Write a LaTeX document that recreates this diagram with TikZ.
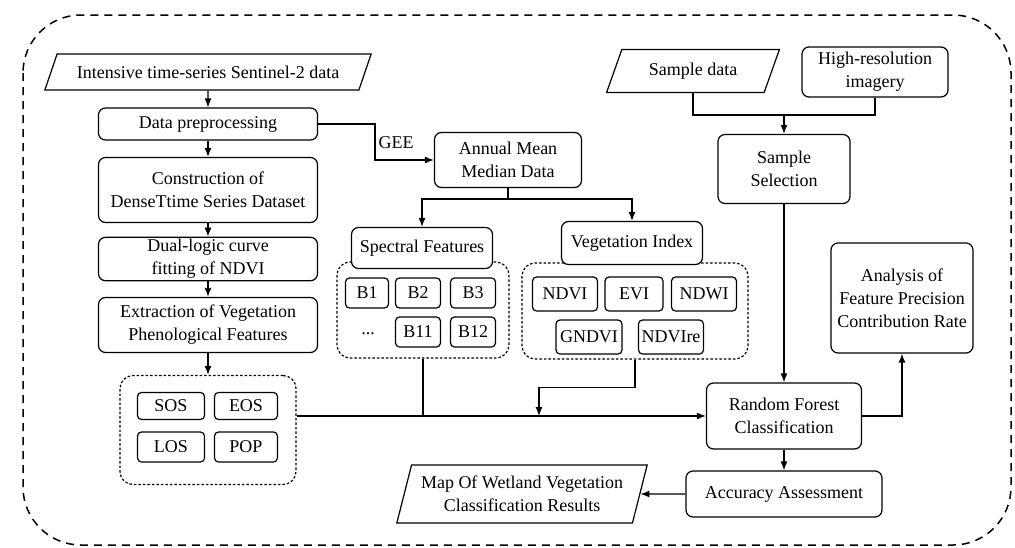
\documentclass[tikz,border=0pt]{standalone}
\usepackage{fontspec}
\setmainfont{Liberation Serif}
\usetikzlibrary{shapes.geometric,arrows.meta}

\begin{document}
\begin{tikzpicture}[x=1pt,y=-1pt,>={Latex[length=9pt,width=7pt]},line width=1.2pt,
  font=\fontsize{18}{23}\selectfont,
  box/.style={draw,fill=white,rounded corners=7pt,align=center,inner sep=2pt},
  para/.style={draw,fill=white,trapezium,trapezium stretches=true,align=center,inner sep=2pt},
  grp/.style={draw,dash pattern=on 2.5pt off 2pt,rounded corners=13pt,inner sep=0pt},
  tag/.style={box,rounded corners=4pt,minimum height=30}]
\useasboundingbox (0,0) rectangle (1015,547);
\draw[dash pattern=on 8pt off 6pt,line width=1.5pt,rounded corners=58] (23,15) rectangle (1011,545);

\node[name=pheno_grp, grp, minimum width=176, minimum height=109, at={(208,430)}]{};
\node[name=spec_grp, grp, minimum width=172, minimum height=96, at={(423,310)}]{};
\node[name=veg_grp, grp, minimum width=226, minimum height=96, at={(635,311)}]{};

\node[name=s2_data, para, trapezium left angle=57, trapezium right angle=123, minimum width=327, minimum height=36, at={(208,72)}]{Intensive time-series Sentinel-2 data};
\node[name=data_pre, box, minimum width=219, minimum height=32, at={(208,124)}]{Data preprocessing};
\node[name=constr, box, minimum width=219, minimum height=65, at={(208,190)}]{Construction of\\DenseTtime Series Dataset};
\node[name=dual_fit, box, minimum width=219, minimum height=42, at={(208,259)}]{Dual-logic curve\\fitting of NDVI};
\node[name=ext_pheno, box, minimum width=219, minimum height=55, at={(208,325)}]{Extraction of Vegetation\\Phenological Features};
\node[name=sos, tag, minimum width=67, minimum height=27, at={(171,406)}]{SOS};
\node[name=eos, tag, minimum width=63, minimum height=27, at={(246,406)}]{EOS};
\node[name=los, tag, minimum width=67, at={(171,447)}]{LOS};
\node[name=pop, tag, minimum width=63, at={(246,447)}]{POP};

\node[name=annual, box, minimum width=147, minimum height=55, at={(508,160)}]{Annual Mean\\Median Data};
\node[name=spec_feat, box, minimum width=141, minimum height=41, at={(422,248)}]{Spectral Features};
\node[name=veg_idx, box, minimum width=141, minimum height=43, at={(632,243)}]{Vegetation Index};
\node[name=b_1, tag, minimum width=43, at={(367,293)}]{B1};
\node[name=b_2, tag, minimum width=45, at={(418,293)}]{B2};
\node[name=b_3, tag, minimum width=45, at={(473,293)}]{B3};
\node[name=b_dots, at={(368,334)}]{...};
\node[name=b_11, tag, minimum width=45, at={(418,332)}]{B11};
\node[name=b_12, tag, minimum width=45, at={(473,332)}]{B12};
\node[name=ndvi, tag, minimum width=65, minimum height=34, at={(565,294)}]{NDVI};
\node[name=evi, tag, minimum width=58, minimum height=34, at={(634,294)}]{EVI};
\node[name=ndwi, tag, minimum width=65, minimum height=34, at={(704,294)}]{NDWI};
\node[name=gndvi, tag, minimum width=66, minimum height=34, at={(589,337)}]{GNDVI};
\node[name=ndvire, tag, minimum width=65, minimum height=34, at={(671,337)}]{NDVIre};

\node[name=sample_data, para, trapezium left angle=64, trapezium right angle=116, minimum width=173, minimum height=43, at={(693,71)}]{Sample data};
\node[name=hires, box, minimum width=146, minimum height=50, at={(875,72)}]{High-resolution\\imagery};
\node[name=sample_sel, box, minimum width=132, minimum height=69, at={(784,169)}]{Sample\\Selection};
\node[name=analysis, box, minimum width=142, minimum height=110, at={(902,298)}]{Analysis of\\Feature Precision\\Contribution Rate};
\node[name=rf, box, minimum width=155, minimum height=66, at={(784,416)}]{Random Forest\\Classification};
\node[name=acc, box, minimum width=196, minimum height=46, at={(784,494)}]{Accuracy Assessment};
\node[name=map_res, para, trapezium left angle=71, trapezium right angle=109, minimum width=251, minimum height=58, at={(522,494)}]{Map Of Wetland Vegetation\\Classification Results};

\coordinate (ann_split) at (508,199);
\coordinate (samp_join) at (784,115);
\coordinate (veg_in) at (539,416);

\draw[->] (s2_data.south) -- (data_pre.north);
\draw[->] (data_pre) -- (constr);
\draw[->] (constr) -- (dual_fit);
\draw[->] (dual_fit) -- (ext_pheno);
\draw[->] (ext_pheno) -- (pheno_grp);
\draw[->] (data_pre.east) -- (375,124) |- node[pos=0.5, anchor=south west, inner sep=3pt, yshift=8pt]{GEE} (annual.west);
\draw (annual.south) -- (ann_split);
\draw[->] (ann_split) -| (spec_feat.north);
\draw[->] (ann_split) -| (veg_idx.north);
\draw (sample_data.south) |- (samp_join) -| (hires.south);
\draw[->] (samp_join) -- (sample_sel.north);
\draw[->] (sample_sel) -- (rf);
\draw[->] (pheno_grp.east |- rf.west) -- (rf.west);
\draw (spec_grp.south) -- (spec_grp.south |- rf.west);
\draw[->] (veg_grp.south) -- ++(0,28) -| (veg_in);
\draw[->] (rf.east) -| (analysis.south);
\draw[->] (rf) -- (acc);
\draw[->] (acc.west) -- (map_res.east);
\end{tikzpicture}
\end{document}
